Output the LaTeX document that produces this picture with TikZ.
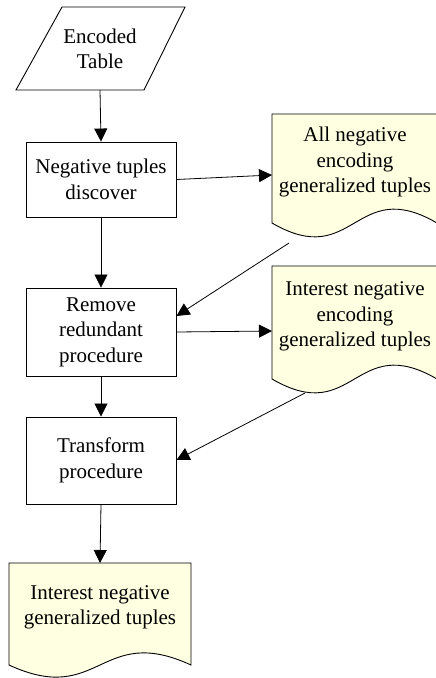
\documentclass[tikz,border=0pt]{standalone}
\usepackage{fontspec}
\setmainfont{Liberation Serif}
\newfontfamily\diafont{Liberation Serif}
\usetikzlibrary{arrows.meta}
\definecolor{docfill}{RGB}{255,255,225}
\tikzset{
  every picture/.style={x=1pt,y=-1pt},
  lbl/.style={font=\diafont\fontsize{21}{25.5}\selectfont, align=center, inner sep=0pt},
  procbox/.style={lbl, draw, line width=0.9pt, minimum width=150pt, minimum height=75pt},
  outline/.style={draw, line width=0.9pt, line join=miter},
  docshape/.style={outline, fill=docfill},
  conn/.style={line width=0.8pt, -{Triangle[length=13pt,width=13pt]}}
}
\begin{document}
\begin{tikzpicture}
\useasboundingbox (0,0) rectangle (436,678);
\clip (0,0) rectangle (436,678);
% input parallelogram
\draw[outline] (16,90) -- (62,7) -- (185,7) -- (144,90) -- cycle;
\node[lbl] (enc) at (100,49) {Encoded\\Table};
\coordinate (encb) at (100,90);
% process boxes
\node[procbox, minimum height=75pt] (neg) at (101,179.5) {Negative tuples\\discover};
\node[procbox, minimum height=88pt] (rem) at (101,332) {Remove\\redundant\\procedure};
\node[procbox, minimum height=87pt] (tra) at (101,460.5) {Transform\\procedure};
% documents
\path[docshape] (272,114) -- (272,223) .. controls (354.5,271) and (354.5,175) .. (437,223) -- (437,114) -- cycle;
\node[lbl] (doc1) at (355,162) {All negative\\encoding\\generalized tuples};
\path[docshape] (272,266) -- (272,379) .. controls (354.5,427) and (354.5,331) .. (437,379) -- (437,266) -- cycle;
\node[lbl] (doc2) at (355,316.5) {Interest negative\\encoding\\generalized tuples};
\path[docshape] (9,563) -- (9,665) .. controls (100,707) and (100,623) .. (191,665) -- (191,563) -- cycle;
\node[lbl] (doc4) at (100,607.5) {Interest negative\\generalized tuples};
% connector end points on document outlines
\coordinate (d1w) at (272,175);
\coordinate (d1b) at (289,243);
\coordinate (d2w) at (272,331);
\coordinate (d2b) at (305,393);
\coordinate (d4t) at (100,563);
\coordinate (remin) at (176.5,316);
\coordinate (train) at (176.5,460);
% connectors
\draw[conn] (encb) -- (neg.north);
\draw[conn] (neg.south) -- (rem.north);
\draw[conn] (rem.south) -- (tra.north);
\draw[conn] (tra.south) -- (d4t);
\draw[conn] (neg.east) -- (d1w);
\draw[conn] (d1b) -- (remin);
\draw[conn] (rem.east) -- (d2w);
\draw[conn] (d2b) -- (train);
\end{tikzpicture}
\end{document}
